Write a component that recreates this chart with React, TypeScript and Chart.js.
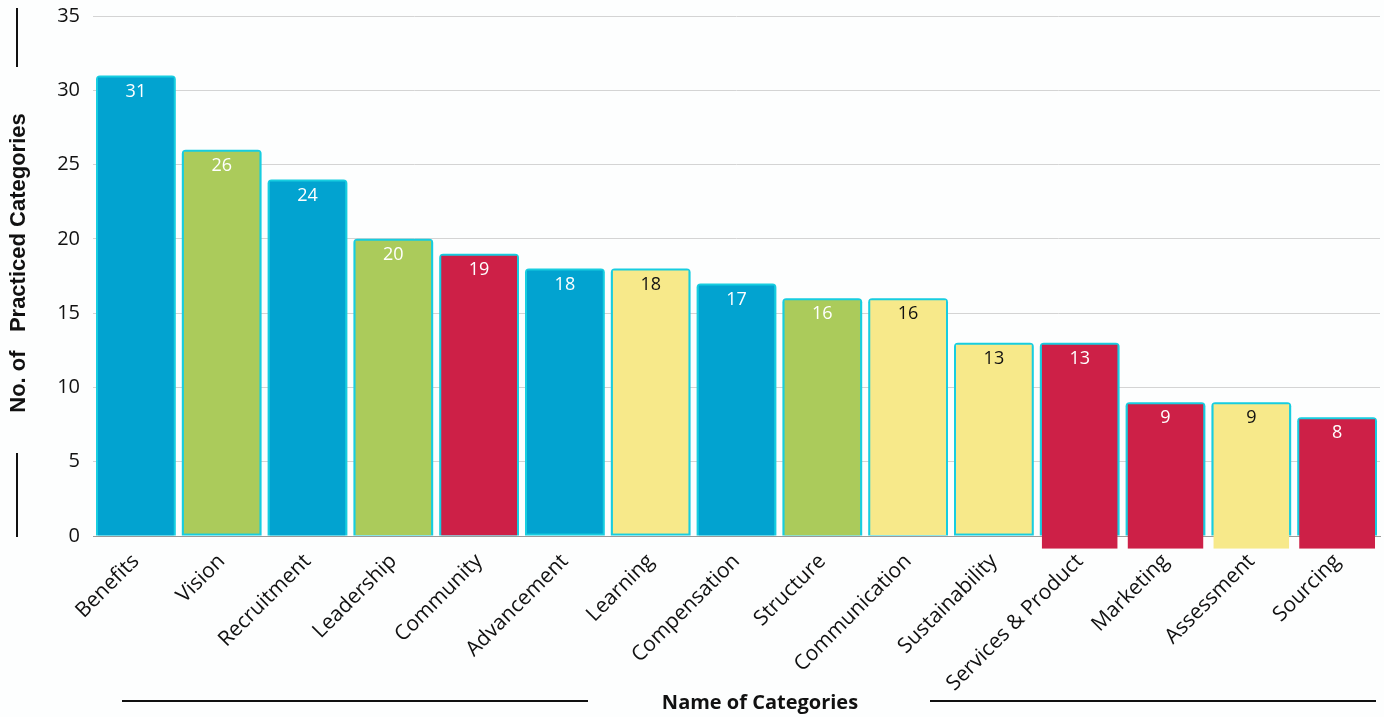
import React, { useEffect, useRef } from "react";
import { Chart, registerables } from "chart.js";

Chart.register(...registerables);

const categories = [
  "Benefits", "Vision", "Recruitment", "Leadership", "Community", "Advancement",
  "Learning", "Compensation", "Structure", "Communication", "Sustainability",
  "Services & Product", "Marketing", "Assessment", "Sourcing",
];
const values = [31, 26, 24, 20, 19, 18, 18, 17, 16, 16, 13, 13, 9, 9, 8];
const bases = [0, 0.15, 0, 0.05, 0, 0.15, 0.15, 0, 0, 0.05, 0.15, -0.85, -0.85, -0.85, -0.85];
const colorKeys = [
  "blue", "green", "blue", "green", "red", "blue", "yellow", "blue", "green",
  "yellow", "yellow", "red", "red", "yellow", "red",
];
const yTicks = [0, 5, 10, 15, 20, 25, 30, 35];

const PALETTE: Record<string, string> = {
  blue: "#02a3d0",
  green: "#abcb5b",
  red: "#cd2047",
  yellow: "#f7e98a",
};
const LABEL_COLOR: Record<string, string> = {
  blue: "#ffffff",
  green: "#ffffff",
  red: "#ffffff",
  yellow: "#111111",
};
const FRAME = "#17cde0";
const FONT = "'Open Sans', 'Noto Sans', sans-serif";

const decorPlugin = {
  id: "decor",
  afterDatasetsDraw(chart: any) {
    const ctx = chart.ctx;
    const meta = chart.getDatasetMeta(0);
    ctx.save();
    ctx.font = `18px ${FONT}`;
    ctx.textAlign = "center";
    ctx.textBaseline = "middle";
    meta.data.forEach((bar: any, i: number) => {
      ctx.fillStyle = LABEL_COLOR[colorKeys[i]];
      ctx.fillText(String(values[i]), bar.x, bar.y + 16);
    });
    ctx.restore();
  },
  afterDraw(chart: any) {
    const ctx = chart.ctx;
    ctx.save();
    ctx.strokeStyle = "#111";
    ctx.lineWidth = 2;
    ctx.beginPath();
    ctx.moveTo(17, 8);
    ctx.lineTo(17, 67);
    ctx.moveTo(17, 453);
    ctx.lineTo(17, 537);
    ctx.moveTo(122, 701);
    ctx.lineTo(588, 701);
    ctx.moveTo(930, 701);
    ctx.lineTo(1376, 701);
    ctx.stroke();

    ctx.fillStyle = "#111";
    ctx.font = `bold 20px ${FONT}`;
    ctx.textAlign = "center";
    ctx.textBaseline = "middle";
    ctx.fillText("Name of Categories", 760, 703);

    ctx.translate(19, 263);
    ctx.rotate(-Math.PI / 2);
    ctx.font = "bold 22px 'Liberation Sans', Arial, sans-serif";
    ctx.fillText("No. of   Practiced Categories", 0, 0);
    ctx.restore();
  },
};

export default function App() {
  const ref = useRef<HTMLCanvasElement>(null);

  useEffect(() => {
    if (!ref.current) return;
    const chart = new Chart(ref.current, {
      type: "bar",
      data: {
        labels: categories,
        datasets: [
          {
            label: "fill",
            data: values.map((v, i) => [bases[i], v]) as any,
            backgroundColor: colorKeys.map((k) => PALETTE[k]),
            borderColor: "rgba(0,0,0,0)",
            borderWidth: { top: 2, left: 0, right: 0, bottom: 0 } as any,
            borderSkipped: false,
            barPercentage: 0.885,
            categoryPercentage: 1,
            grouped: false,
            clip: false as any,
            order: 0,
          },
          {
            label: "frame",
            data: values,
            backgroundColor: FRAME,
            borderWidth: 0,
            borderRadius: { topLeft: 4, topRight: 4, bottomLeft: 0, bottomRight: 0 },
            borderSkipped: false,
            barPercentage: 0.93,
            categoryPercentage: 1,
            grouped: false,
            order: 1,
          },
        ],
      },
      options: {
        animation: false,
        responsive: false,
        layout: { padding: { top: 16, right: 4, left: 0, bottom: 0 } },
        plugins: {
          legend: { display: false },
          tooltip: { enabled: false },
        },
        scales: {
          x: {
            grid: { display: false },
            border: { display: true, color: "#9a9a9a", width: 1 },
            ticks: {
              color: "#111",
              font: { family: FONT, size: 21 },
              minRotation: 45,
              maxRotation: 45,
              padding: 5,
              autoSkip: false,
            },
            afterFit: (s: any) => {
              s.height = 181;
              s.paddingLeft = 0;
              s.paddingRight = 0;
            },
          },
          y: {
            min: 0,
            max: 35,
            afterBuildTicks: (s: any) => {
              s.ticks = yTicks.map((v) => ({ value: v }));
            },
            grid: { color: "#d4d4d4", lineWidth: 1, drawTicks: false },
            border: { display: false },
            ticks: {
              color: "#111",
              font: { family: FONT, size: 20 },
              padding: 13,
            },
            afterFit: (s: any) => {
              s.width = 93;
              s.paddingTop = 0;
              s.paddingBottom = 0;
            },
          },
        },
      },
      plugins: [decorPlugin],
    });
    return () => chart.destroy();
  }, []);

  return (
    <div style={{ position: "absolute", left: 0, top: 0, width: 1384, height: 717, background: "#fdfefe" }}>
      <canvas ref={ref} width={1384} height={717} style={{ width: 1384, height: 717 }} />
    </div>
  );
}
